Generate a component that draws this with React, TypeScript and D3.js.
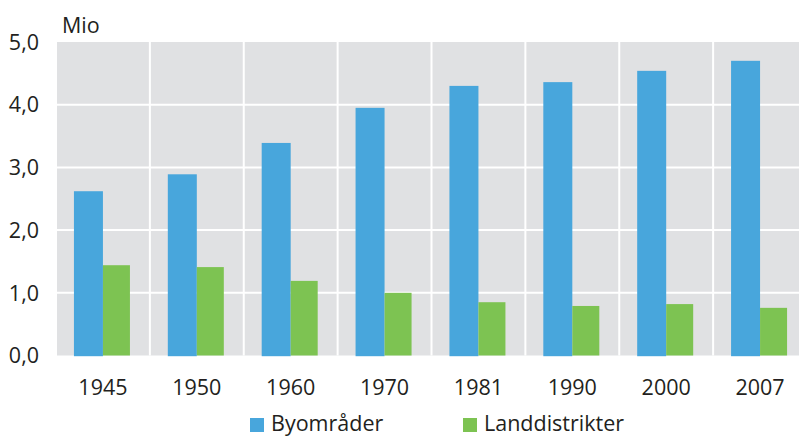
import React from "react";
import * as d3 from "d3";

const years = ["1945", "1950", "1960", "1970", "1981", "1990", "2000", "2007"];
const byomrader = [2.62, 2.89, 3.39, 3.95, 4.3, 4.36, 4.54, 4.7];
const landdistrikter = [1.44, 1.41, 1.19, 1.0, 0.85, 0.79, 0.82, 0.76];
const yTicks = [0, 1, 2, 3, 4, 5];
const seriesNames = ["Byområder", "Landdistrikter"];

const W = 799;
const H = 436;
const FONT = "'Open Sans', 'Noto Sans', sans-serif";
const TEXT = "#231f20";
const BLUE = "#48a6dc";
const GREEN = "#7dc352";
const GRAY = "#e0e1e3";
const FS = 21.5;

export default function App() {
  const x = d3.scaleBand<string>().domain(years).range([56, 807]).padding(0);
  const y = d3.scaleLinear().domain([0, 5]).range([355.5, 42]);
  const bw = x.bandwidth();
  const blueW = 29;
  const greenW = 27;
  const plotLeft = 57;
  const fmt = (v: number) => d3.format(".1f")(v).replace(".", ",");

  return (
    <svg width={W} height={H} style={{ position: "absolute", left: 0, top: 0 }} fontFamily={FONT}>
      <rect x={plotLeft} y={y(5)} width={W - plotLeft} height={y(0) - y(5)} fill={GRAY} />
      {yTicks.slice(1, 5).map((t) => (
        <line key={"h" + t} x1={plotLeft} x2={W} y1={y(t)} y2={y(t)} stroke="#fff" strokeWidth={2} />
      ))}
      {years.slice(1).map((yr) => (
        <line key={"v" + yr} x1={x(yr)!} x2={x(yr)!} y1={y(5)} y2={y(0)} stroke="#fff" strokeWidth={2} />
      ))}
      {years.map((yr, i) => {
        const c = x(yr)! + bw / 2;
        return (
          <g key={yr}>
            <rect x={c - blueW} y={y(byomrader[i])} width={blueW} height={y(0) - y(byomrader[i]) + 0.7} fill={BLUE} />
            <rect x={c} y={y(landdistrikter[i])} width={greenW} height={y(0) - y(landdistrikter[i])} fill={GREEN} />
            <text x={c} y={395} textAnchor="middle" fontSize={FS} fill={TEXT}>{yr}</text>
          </g>
        );
      })}
      {yTicks.map((t) => (
        <text key={"t" + t} x={39} y={y(t)} dy="0.36em" textAnchor="end" fontSize={FS} fill={TEXT}>{fmt(t)}</text>
      ))}
      <text x={62} y={33} fontSize={FS} fill={TEXT}>Mio</text>
      <rect x={250} y={418} width={14} height={14} fill={BLUE} />
      <text x={271} y={431} fontSize={FS} fill={TEXT}>{seriesNames[0]}</text>
      <rect x={463} y={418} width={14} height={14} fill={GREEN} />
      <text x={484} y={431} fontSize={FS} fill={TEXT}>{seriesNames[1]}</text>
    </svg>
  );
}
